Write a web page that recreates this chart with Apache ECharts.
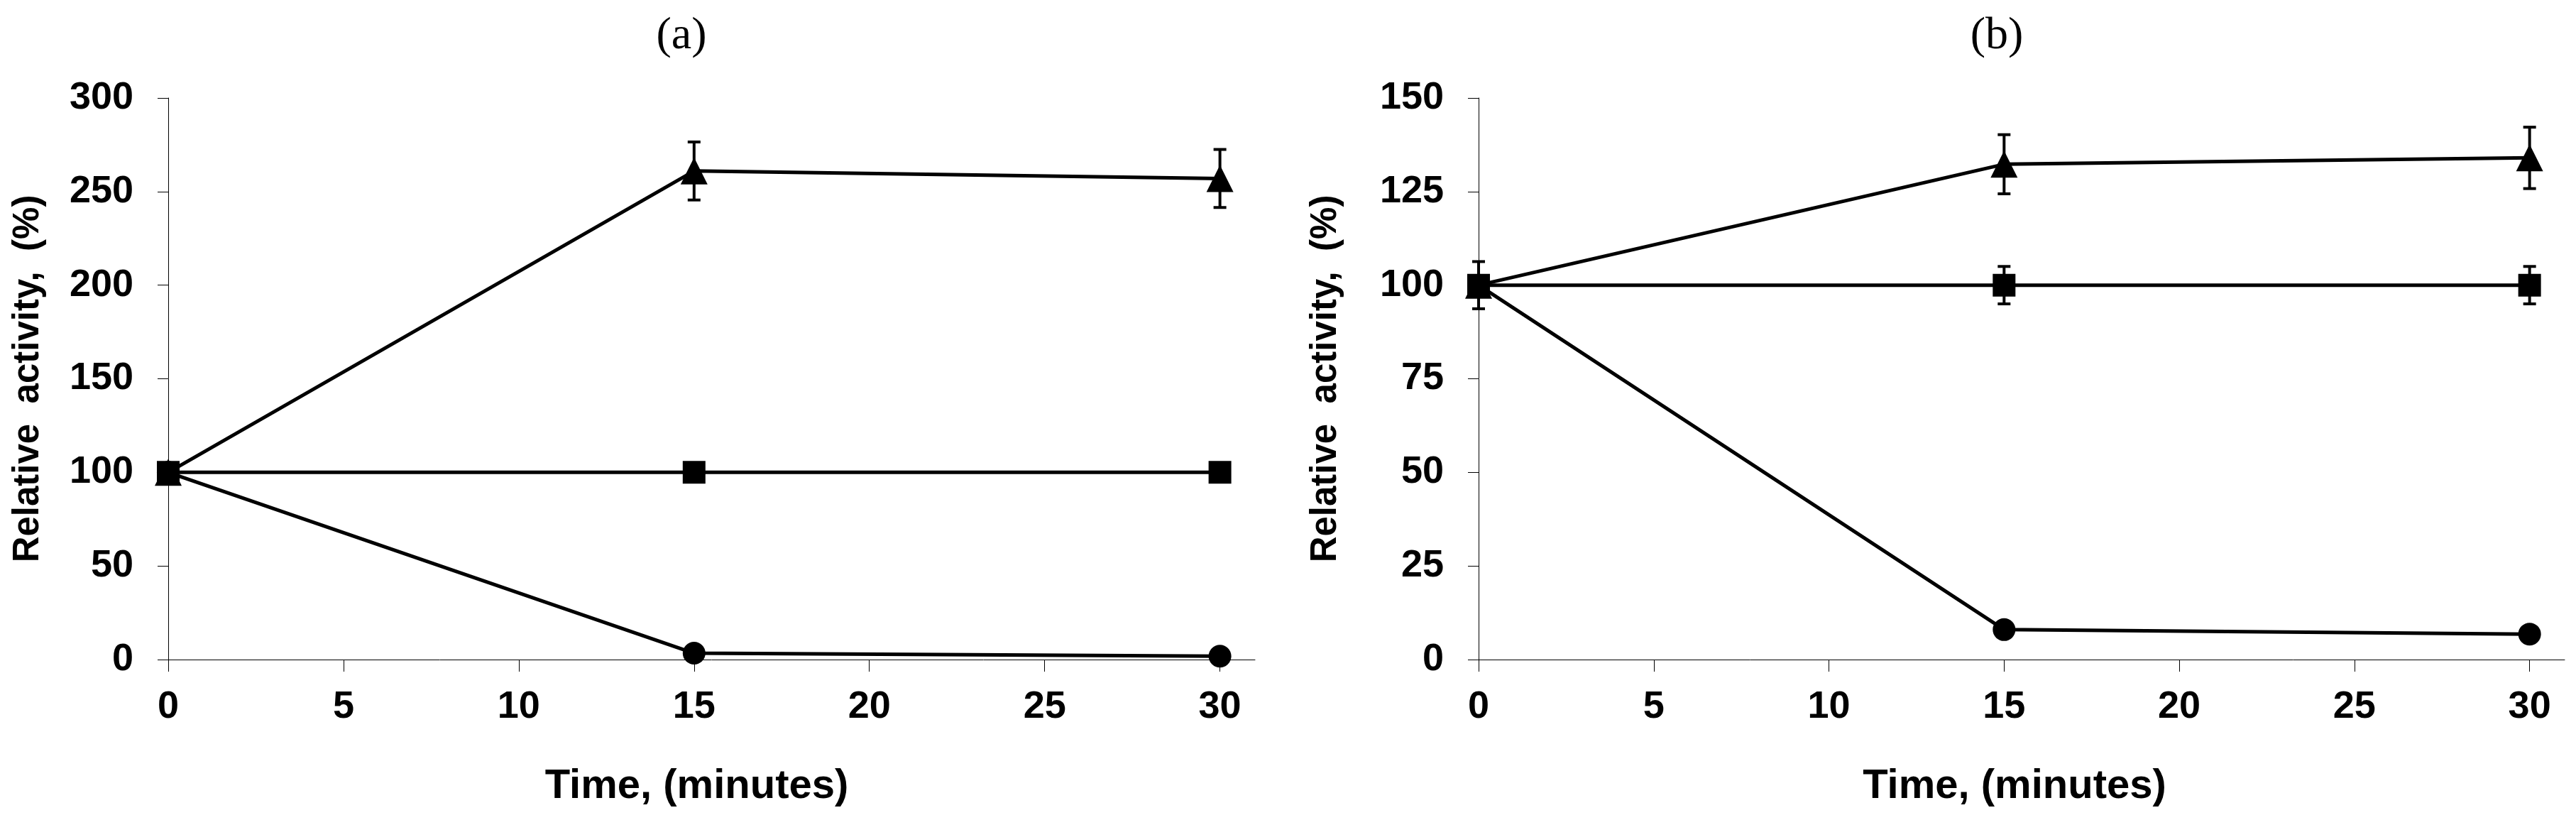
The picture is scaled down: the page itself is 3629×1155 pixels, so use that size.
<!DOCTYPE html>
<html>
<head>
<meta charset="utf-8">
<script src="https://cdn.jsdelivr.net/npm/echarts@6/dist/echarts.min.js"></script>
<style>
  html, body { margin: 0; padding: 0; background: #fff; }
  #main { width: 3629px; height: 1155px; }
</style>
</head>
<body>
<div id="main"></div>
<script>
// time points (minutes)
const times = [0, 15, 30];
const xTicks = [0, 5, 10, 15, 20, 25, 30];

// panel (a)
const aTriangle = [100, 261, 257];
const aTriangleErr = [0, 15.5, 15.5];
const aSquare = [100, 100, 100];
const aSquareErr = [0, 0, 0];
const aCircle = [100, 3.4, 1.8];
const aCircleErr = [0, 0, 0];

// panel (b)
const bTriangle = [100, 132.3, 134];
const bTriangleErr = [0, 7.9, 8.2];
const bSquare = [100, 100, 100];
const bSquareErr = [6.3, 5, 5];
const bCircle = [100, 8, 6.8];
const bCircleErr = [0, 0, 0];

const tickFont = "'Liberation Sans Narrow', 'Liberation Sans', Arial, sans-serif";
const nameFont = "'Liberation Sans', Arial, sans-serif";
const serifFont = "'Liberation Serif', 'Times New Roman', serif";

const pairs = (vals) => times.map((t, i) => [t, vals[i]]);

const errData = (vals, errs) => {
  const out = [];
  for (let i = 0; i < times.length; i++) {
    if (errs[i] > 0) {
      out.push([times[i], vals[i] - errs[i], vals[i] + errs[i]]);
    }
  }
  return out;
};

const renderErr = (params, api) => {
  const x = api.value(0);
  const top = api.coord([x, api.value(2)]);
  const bot = api.coord([x, api.value(1)]);
  const cap = 9;
  const st = { stroke: '#000', lineWidth: 4 };
  return {
    type: 'group',
    children: [
      { type: 'line', shape: { x1: top[0], y1: top[1], x2: bot[0], y2: bot[1] }, style: st },
      { type: 'line', shape: { x1: top[0] - cap, y1: top[1], x2: top[0] + cap, y2: top[1] }, style: st },
      { type: 'line', shape: { x1: bot[0] - cap, y1: bot[1], x2: bot[0] + cap, y2: bot[1] }, style: st },
    ],
  };
};

const makeX = (idx, namePad) => ({
  type: 'value',
  gridIndex: idx,
  min: 0,
  max: 31,
  interval: 5,
  name: 'Time, (minutes)',
  nameLocation: 'middle',
  nameGap: 150,
  nameTextStyle: {
    fontFamily: tickFont, fontWeight: 'bold', fontSize: 58, color: '#000',
    padding: namePad,
  },
  axisLine: { lineStyle: { color: '#000', width: 1 } },
  axisTick: { customValues: xTicks, length: 17, lineStyle: { color: '#000', width: 1 } },
  axisLabel: {
    customValues: xTicks, margin: 40,
    fontFamily: tickFont, fontWeight: 'bold', fontSize: 54, color: '#000',
  },
  splitLine: { show: false },
});

const makeY = (idx, max, step, gap) => ({
  type: 'value',
  gridIndex: idx,
  min: 0,
  max: max,
  interval: step,
  name: 'Relative  activity,  (%)',
  nameLocation: 'middle',
  nameGap: gap,
  nameTextStyle: { fontFamily: nameFont, fontWeight: 'bold', fontSize: 51, color: '#000' },
  axisLine: { show: true, lineStyle: { color: '#000', width: 1 } },
  axisTick: { show: true, length: 15, lineStyle: { color: '#000', width: 1 } },
  axisLabel: {
    margin: 49,
    fontFamily: tickFont, fontWeight: 'bold', fontSize: 54, color: '#000',
  },
  splitLine: { show: false },
});

const lineSeries = (idx, vals, symbol, size) => ({
  type: 'line',
  xAxisIndex: idx,
  yAxisIndex: idx,
  data: pairs(vals),
  symbol: symbol,
  symbolSize: size,
  showSymbol: true,
  lineStyle: { color: '#000', width: 5 },
  itemStyle: { color: '#000' },
  z: 3,
  animation: false,
});

const errSeries = (idx, vals, errs) => ({
  type: 'custom',
  xAxisIndex: idx,
  yAxisIndex: idx,
  data: errData(vals, errs),
  renderItem: renderErr,
  encode: { x: 0, y: [1, 2] },
  z: 2,
  animation: false,
});

const myChart = echarts.init(document.getElementById('main'));

const option = {
  backgroundColor: '#fff',
  animation: false,
  title: [
    {
      text: '(a)', left: 955, top: 14, textAlign: 'center',
      textStyle: { fontFamily: serifFont, fontWeight: 'normal', fontSize: 64, color: '#000' },
    },
    {
      text: '(b)', left: 2808, top: 14, textAlign: 'center',
      textStyle: { fontFamily: serifFont, fontWeight: 'normal', fontSize: 64, color: '#000' },
    },
  ],
  grid: [
    { left: 237, top: 138, width: 1531, height: 791 },
    { left: 2083, top: 138, width: 1530, height: 791 },
  ],
  xAxis: [makeX(0, [0, 42, 0, 0]), makeX(1, [0, 20, 0, 0])],
  yAxis: [makeY(0, 300, 50, 172), makeY(1, 150, 25, 190)],
  series: [
    errSeries(0, aTriangle, aTriangleErr),
    errSeries(0, aSquare, aSquareErr),
    errSeries(0, aCircle, aCircleErr),
    lineSeries(0, aTriangle, 'triangle', 38),
    lineSeries(0, aCircle, 'circle', 32),
    lineSeries(0, aSquare, 'rect', 32),
    errSeries(1, bTriangle, bTriangleErr),
    errSeries(1, bSquare, bSquareErr),
    errSeries(1, bCircle, bCircleErr),
    lineSeries(1, bTriangle, 'triangle', 38),
    lineSeries(1, bCircle, 'circle', 32),
    lineSeries(1, bSquare, 'rect', 32),
  ],
};
myChart.setOption(option);
</script>
</body>
</html>
